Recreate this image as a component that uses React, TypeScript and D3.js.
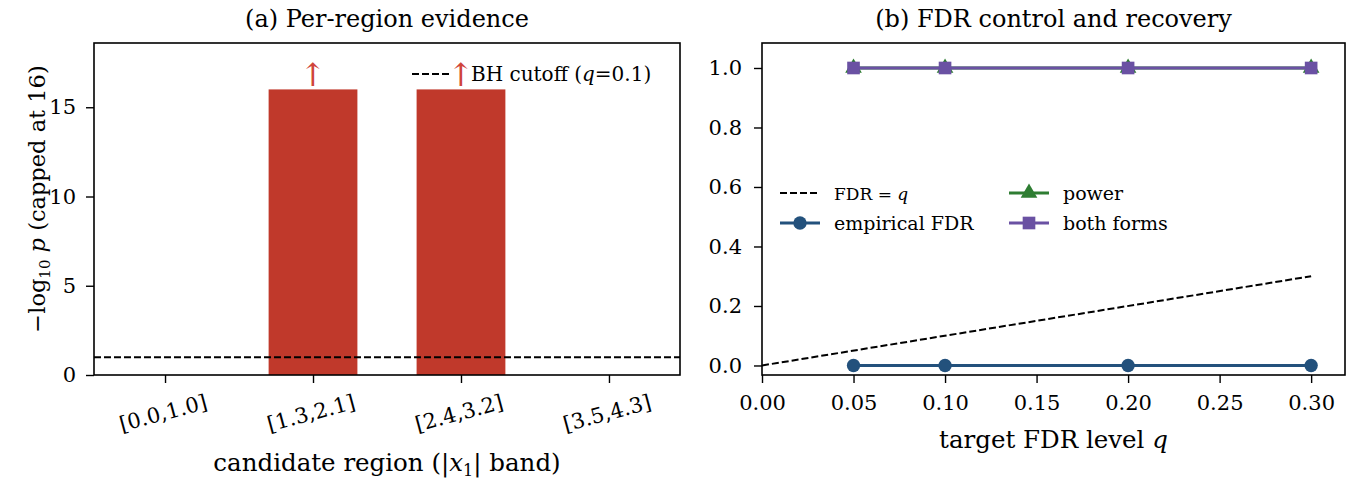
import React, { useEffect, useRef } from "react";
import * as d3 from "d3";

// panel (a): per-region evidence
const regions = ["[0.0,1.0]", "[1.3,2.1]", "[2.4,3.2]", "[3.5,4.3]"];
const negLogP = [0, 16, 16, 0];
const capped = [false, true, true, false];
const bhCutoff = 1.0;
const leftYTicks = [0, 5, 10, 15];

// panel (b): FDR control and recovery
const qLevels = [0.05, 0.1, 0.2, 0.3];
const empiricalFdr = [0, 0, 0, 0];
const power = [1, 1, 1, 1];
const bothForms = [1, 1, 1, 1];
const diagQ = [0, 0.3];
const rightXTicks = [0, 0.05, 0.1, 0.15, 0.2, 0.25, 0.3];
const rightYTicks = [0, 0.2, 0.4, 0.6, 0.8, 1.0];

const W = 1351, H = 479;
const FONT = "DejaVu Serif";
const TICK = 21;
const TITLE = 24;
const XLAB = 24.5;
const barCol = "#c0392b";
const blue = "#23517c";
const green = "#2e7d32";
const purple = "#6a51a3";

export default function App() {
  const ref = useRef<SVGSVGElement>(null);

  useEffect(() => {
    const svg = d3.select(ref.current);
    svg.selectAll("*").remove();
    svg.style("font-family", FONT);

    // ---------- panel (a) ----------
    const A = { l: 94, r: 680, t: 43, b: 375 };
    const xa = d3.scaleLinear().domain([-0.48, 3.48]).range([A.l, A.r]);
    const ya = d3.scaleLinear().domain([0, 18.6]).range([A.b, A.t]);
    const ga = svg.append("g");

    ga.selectAll("rect.bar")
      .data(negLogP)
      .enter()
      .append("rect")
      .attr("x", (d, i) => xa(i - 0.3))
      .attr("width", xa(0.6) - xa(0))
      .attr("y", (d) => ya(d))
      .attr("height", (d) => ya(0) - ya(d))
      .attr("fill", barCol);

    ga.append("line")
      .attr("x1", A.l).attr("x2", A.r)
      .attr("y1", ya(bhCutoff)).attr("y2", ya(bhCutoff))
      .attr("stroke", "#000").attr("stroke-width", 2)
      .attr("stroke-dasharray", "7,3");

    // axes
    const axA = ga.append("g").attr("transform", `translate(0,${A.b})`)
      .call(d3.axisBottom(xa).tickValues([0, 1, 2, 3]).tickSize(8).tickFormat(() => ""));
    axA.selectAll("text").remove();
    ga.selectAll("text.xl")
      .data(regions)
      .enter()
      .append("text")
      .attr("transform", (d, i) => `translate(${xa(i)},${A.b + 45}) rotate(-15)`)
      .attr("text-anchor", "middle")
      .attr("font-size", TICK)
      .text((d) => d);
    ga.append("g").attr("transform", `translate(${A.l},0)`)
      .call(d3.axisLeft(ya).tickValues(leftYTicks).tickSize(8).tickPadding(10).tickFormat(d3.format("d")));
    ga.append("rect")
      .attr("x", A.l).attr("y", A.t).attr("width", A.r - A.l).attr("height", A.b - A.t)
      .attr("fill", "none").attr("stroke", "#000").attr("stroke-width", 1.6);

    ga.append("text").attr("x", (A.l + A.r) / 2).attr("y", 27).attr("text-anchor", "middle")
      .attr("font-size", TITLE).text("(a) Per-region evidence");
    const xlabA = ga.append("text").attr("x", (A.l + A.r) / 2).attr("y", 471)
      .attr("text-anchor", "middle").attr("font-size", XLAB);
    xlabA.append("tspan").text("candidate region (|");
    xlabA.append("tspan").attr("font-style", "italic").text("x");
    xlabA.append("tspan").attr("font-size", 16).attr("dy", 5).text("1");
    xlabA.append("tspan").attr("dy", -5).text("| band)");
    const ylabA = ga.append("text")
      .attr("transform", `translate(45,${(A.t + A.b) / 2 - 10}) rotate(-90)`)
      .attr("text-anchor", "middle").attr("font-size", 22.5);
    ylabA.append("tspan").text("−log");
    ylabA.append("tspan").attr("font-size", 15).attr("dy", 5).text("10");
    ylabA.append("tspan").attr("dy", -5).attr("font-style", "italic").text(" p");
    ylabA.append("tspan").text("  (capped at 16)");

    // legend (a)
    ga.append("line").attr("x1", 412).attr("x2", 452).attr("y1", 74).attr("y2", 74)
      .attr("stroke", "#000").attr("stroke-width", 2).attr("stroke-dasharray", "7,3");
    const legA = ga.append("text").attr("x", 471).attr("y", 81).attr("font-size", 20);
    legA.append("tspan").text("BH cutoff (");
    legA.append("tspan").attr("font-style", "italic").text("q");
    legA.append("tspan").text("=0.1)");

    // arrows marking capped bars
    ga.selectAll("text.arrow")
      .data(negLogP.map((d, i) => ({ d, i })).filter((o) => capped[o.i]))
      .enter()
      .append("text")
      .attr("x", (o) => xa(o.i))
      .attr("y", (o) => ya(o.d) - 3)
      .attr("text-anchor", "middle")
      .attr("font-size", 32)
      .attr("font-weight", 200)
      .attr("fill", "#d0453a")
      .text("↑");

    // ---------- panel (b) ----------
    const B = { l: 762, r: 1345, t: 43, b: 375 };
    const xb = d3.scaleLinear().domain([0, 0.3185]).range([B.l, B.r]);
    const yb = d3.scaleLinear().domain([-0.032, 1.084]).range([B.b, B.t]);
    const gb = svg.append("g");

    gb.append("path")
      .datum(diagQ)
      .attr("d", d3.line<number>().x((d) => xb(d)).y((d) => yb(d)))
      .attr("fill", "none").attr("stroke", "#000").attr("stroke-width", 2)
      .attr("stroke-dasharray", "7,3");

    const line = d3.line<[number, number]>().x((d) => xb(d[0])).y((d) => yb(d[1]));
    const symOf = (m: string) => m === "circle" ? d3.symbolCircle : m === "triangle" ? d3.symbolTriangle : d3.symbolSquare;
    const sizeOf = (m: string) => m === "circle" ? 140 : m === "triangle" ? 120 : 160;
    const series = (vals: number[], col: string, marker: string) => {
      const pts: [number, number][] = qLevels.map((q, i) => [q, vals[i]]);
      gb.append("path").datum(pts).attr("d", line)
        .attr("fill", "none").attr("stroke", col).attr("stroke-width", 3.2);
      gb.selectAll(null).data(pts).enter().append("path")
        .attr("d", d3.symbol().type(symOf(marker)).size(sizeOf(marker))())
        .attr("transform", (d) => `translate(${xb(d[0])},${yb(d[1])})`)
        .attr("fill", col);
    };
    series(empiricalFdr, blue, "circle");
    series(power, green, "triangle");
    series(bothForms, purple, "square");

    gb.append("g").attr("transform", `translate(0,${B.b})`)
      .call(d3.axisBottom(xb).tickValues(rightXTicks).tickSize(8).tickPadding(12).tickFormat(d3.format(".2f")));
    gb.append("g").attr("transform", `translate(${B.l},0)`)
      .call(d3.axisLeft(yb).tickValues(rightYTicks).tickSize(8).tickPadding(12).tickFormat(d3.format(".1f")));
    gb.append("rect")
      .attr("x", B.l).attr("y", B.t).attr("width", B.r - B.l).attr("height", B.b - B.t)
      .attr("fill", "none").attr("stroke", "#000").attr("stroke-width", 1.6);

    gb.append("text").attr("x", (B.l + B.r) / 2).attr("y", 27).attr("text-anchor", "middle")
      .attr("font-size", TITLE).text("(b) FDR control and recovery");
    const xlabB = gb.append("text").attr("x", (B.l + B.r) / 2).attr("y", 448)
      .attr("text-anchor", "middle").attr("font-size", XLAB);
    xlabB.append("tspan").text("target FDR level ");
    xlabB.append("tspan").attr("font-style", "italic").text("q");

    // legend (b)
    const legItems = [
      { lab: "FDR = q", col: "#000", mk: "", x: 780, y: 193 },
      { lab: "empirical FDR", col: blue, mk: "circle", x: 780, y: 223 },
      { lab: "power", col: green, mk: "triangle", x: 1009, y: 193 },
      { lab: "both forms", col: purple, mk: "square", x: 1009, y: 223 },
    ];
    legItems.forEach((it) => {
      const g = gb.append("g");
      g.append("line").attr("x1", it.x).attr("x2", it.x + 40).attr("y1", it.y).attr("y2", it.y)
        .attr("stroke", it.col).attr("stroke-width", it.mk ? 3.2 : 2)
        .attr("stroke-dasharray", it.mk ? null : "7,3");
      if (it.mk) {
        g.append("path").attr("d", d3.symbol().type(symOf(it.mk)).size(sizeOf(it.mk))())
          .attr("transform", `translate(${it.x + 20},${it.y})`).attr("fill", it.col);
      }
      const t = g.append("text").attr("x", it.x + 54).attr("y", it.y + 7).attr("font-size", 19);
      if (it.lab === "FDR = q") {
        t.append("tspan").attr("font-size", 17).text("FDR = ");
        t.append("tspan").attr("font-size", 17).attr("font-style", "italic").text("q");
      } else t.text(it.lab);
    });

    svg.selectAll(".tick text").attr("font-size", TICK).attr("font-family", FONT).attr("fill", "#000");
    svg.selectAll(".tick line").attr("stroke", "#000").attr("stroke-width", 1.4);
    svg.selectAll(".domain").remove();
  }, []);

  return (
    <svg ref={ref} width={W} height={H}
      style={{ position: "absolute", left: 0, top: 0, background: "#fff" }} />
  );
}
